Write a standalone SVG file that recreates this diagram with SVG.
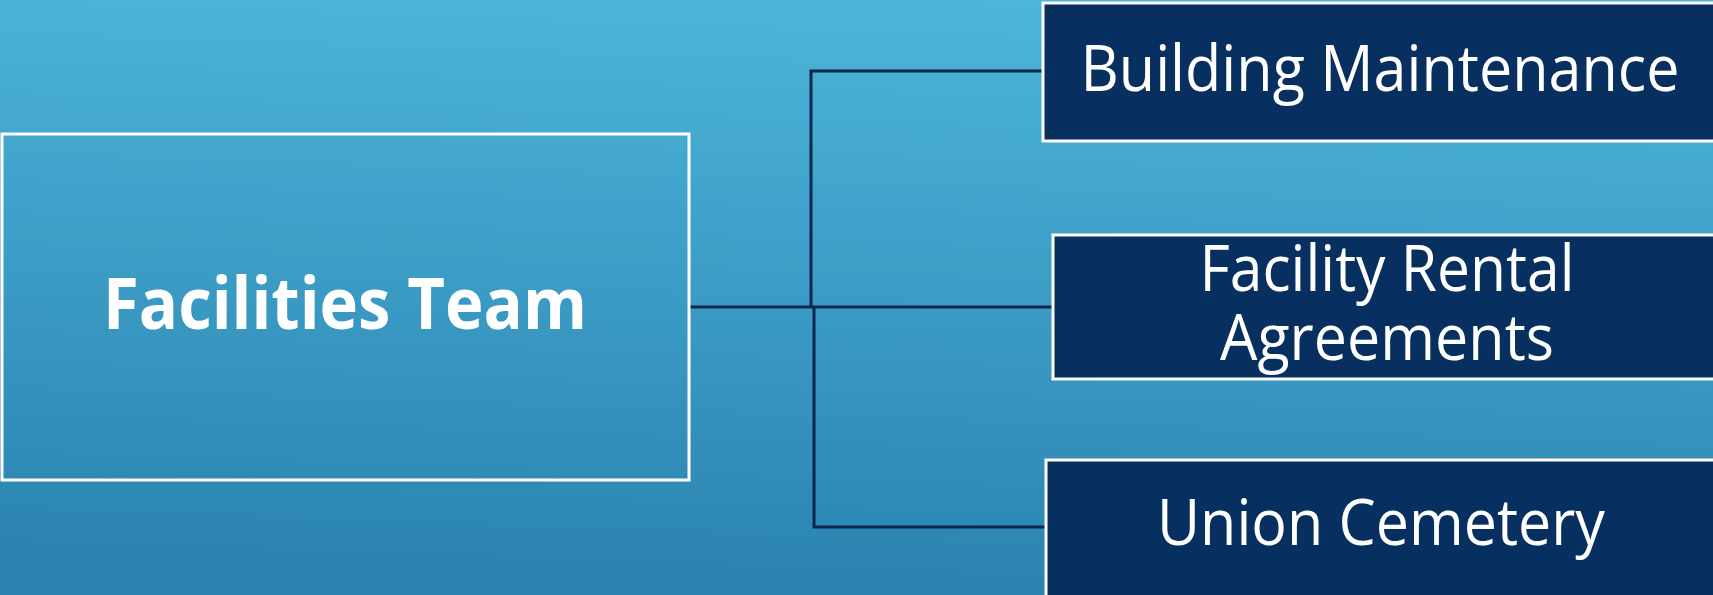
<svg xmlns="http://www.w3.org/2000/svg" width="1713" height="595" viewBox="0 0 1713 595">
<defs>
<linearGradient id="bg" x1="0.55" y1="0" x2="0.45" y2="1">
<stop offset="0" stop-color="#4db5da"/>
<stop offset="1" stop-color="#2a82af"/>
</linearGradient>
</defs>
<style>
.main{fill:none;stroke:#ffffff;stroke-width:3}
.sub{fill:#072f5f;stroke:#ffffff;stroke-width:3}
.t{fill:#ffffff;font-family:"Open Sans","Liberation Sans",sans-serif;text-anchor:middle}
.tb{font-weight:bold;font-size:72px}
.tr{font-size:64px}
.c{fill:none;stroke:#0a2550;stroke-width:3}
</style>
<rect x="0" y="0" width="1713" height="595" fill="url(#bg)"/>
<g id="connectors">
<path class="c" d="M689 307 H1053"/>
<path class="c" d="M811 307 V71 H1043"/>
<path class="c" d="M814 307 V527 H1046"/>
</g>
<g id="facilities-team">
<rect class="main" x="2" y="134" width="687" height="346"/>
<text class="t tb" x="345" y="329" textLength="484" lengthAdjust="spacingAndGlyphs">Facilities Team</text>
</g>
<g id="building-maintenance">
<rect class="sub" x="1043" y="3" width="675" height="138"/>
<text class="t tr" x="1380" y="91" textLength="599" lengthAdjust="spacingAndGlyphs">Building Maintenance</text>
</g>
<g id="facility-rental">
<rect class="sub" x="1053" y="235" width="665" height="144"/>
<text class="t tr" x="1387" y="291" textLength="375" lengthAdjust="spacingAndGlyphs">Facility Rental</text>
<text class="t tr" x="1387" y="360" textLength="334" lengthAdjust="spacingAndGlyphs">Agreements</text>
</g>
<g id="union-cemetery">
<rect class="sub" x="1046" y="460" width="672" height="140"/>
<text class="t tr" x="1381" y="545" textLength="448" lengthAdjust="spacingAndGlyphs">Union Cemetery</text>
</g>
</svg>
